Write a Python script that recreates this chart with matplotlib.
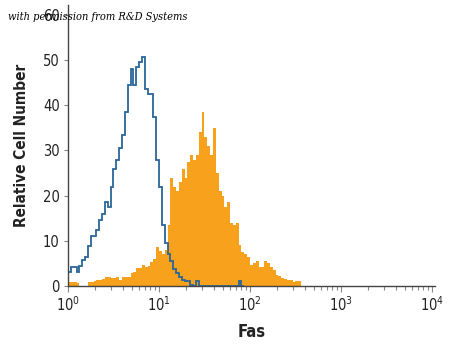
import numpy as np
import matplotlib
matplotlib.use("Agg")
import matplotlib.pyplot as plt
from matplotlib.ticker import LogLocator, FixedLocator

# histogram channels: 32 bins per decade, starting at 10^0
bins_per_decade = 32

isotype = [3.0, 4.2, 4.2, 3.0, 4.5, 5.8, 6.5, 8.8, 11, 11,
           12.5, 14.5, 16, 18.5, 17.5, 22, 26, 28, 30.5, 33.5,
           38.5, 44.5, 48, 44.5, 48.5, 49.5, 50.6, 43.5, 42.5, 42.6,
           37.5, 28, 22, 13.5, 9.5, 7, 5.5, 3.8, 2.9, 2.0,
           1.4, 1.2, 1.0, 0.3, 0, 1.0, 0, 0, 0, 0,
           0, 0, 0, 0, 0, 0, 0, 0, 0, 0,
           1.0, 0]

fas = [0.8, 0.8, 0.8, 0.6, 0, 0, 0, 0.8, 0.8, 1.0,
       1.3, 1.3, 1.5, 1.9, 1.9, 1.7, 1.7, 2.0, 1.3, 2.0,
       2.0, 2.1, 2.9, 3.0, 4.0, 4.0, 4.7, 4.3, 4.5, 5.4,
       6.0, 8.7, 7.7, 7.0, 8.0, 13.5, 24, 22, 21, 23,
       26, 24, 27.5, 29, 28, 29, 34, 38.6, 33, 31,
       29, 35, 25, 21, 20, 17.5, 18.5, 14, 13.5, 14,
       9, 7.6, 7, 6.5, 4.7, 5.2, 5.5, 4.3, 4.3, 5.5,
       5.0, 4.3, 3.5, 2.5, 2.3, 1.8, 1.5, 1.3, 1.3, 0.8,
       1.0, 1.0]

yticks = [0, 10, 20, 30, 40, 50, 60]
xticklabels = [r"$10^0$", r"$10^1$", r"$10^2$", r"$10^3$", r"$10^4$"]

orange = "#f7a11c"
blue = "#2b6698"
axis_col = "#444444"

plt.rcParams["mathtext.default"] = "regular"
plt.rcParams["font.family"] = "DejaVu Sans"
plt.rcParams["font.stretch"] = "condensed"

fig = plt.figure(figsize=(4.5, 3.49), dpi=100)
ax = fig.add_axes([68 / 450, 1 - 286 / 349, 367 / 450, 281 / 349])

fas_edges = 10 ** (np.arange(len(fas) + 1) / bins_per_decade)
iso_edges = 10 ** (np.arange(len(isotype) + 1) / bins_per_decade)
ax.stairs(fas, fas_edges, fill=True, color=orange, linewidth=0)
ax.stairs(isotype, iso_edges, color=blue, linewidth=1.3, baseline=0)

ax.set_xscale("log")
ax.set_xlim(1, 10 ** 4.033)
ax.set_ylim(0, 62.2)

ax.xaxis.set_major_locator(FixedLocator([1, 10, 100, 1000, 10000]))
ax.xaxis.set_minor_locator(LogLocator(base=10, subs=np.arange(2, 10), numticks=20))
ax.set_xticklabels(xticklabels)
ax.set_yticks(yticks)

for s in ["top", "right"]:
    ax.spines[s].set_visible(False)
for s in ["left", "bottom"]:
    ax.spines[s].set_color(axis_col)
    ax.spines[s].set_linewidth(1.0)

ax.tick_params(axis="both", which="major", length=4, width=0.8, color="#888888",
               labelsize=10.5, labelcolor="#222222", pad=3)
ax.tick_params(axis="x", which="minor", length=3, width=0.8, color="#888888")
ax.tick_params(axis="y", which="major", length=3)

ax.set_xlabel("Fas", fontsize=12, fontweight="bold", color="#222222", labelpad=6)
ax.set_ylabel("Relative Cell Number", fontsize=11, fontweight="bold",
              color="#222222", labelpad=10)

fig.text(8 / 450, 1 - 17 / 349, "with permission from R&D Systems", fontsize=7.9,
         style="italic", family="DejaVu Serif", stretch="condensed", color="black", va="center")

fig.savefig("out.png", dpi=100)
